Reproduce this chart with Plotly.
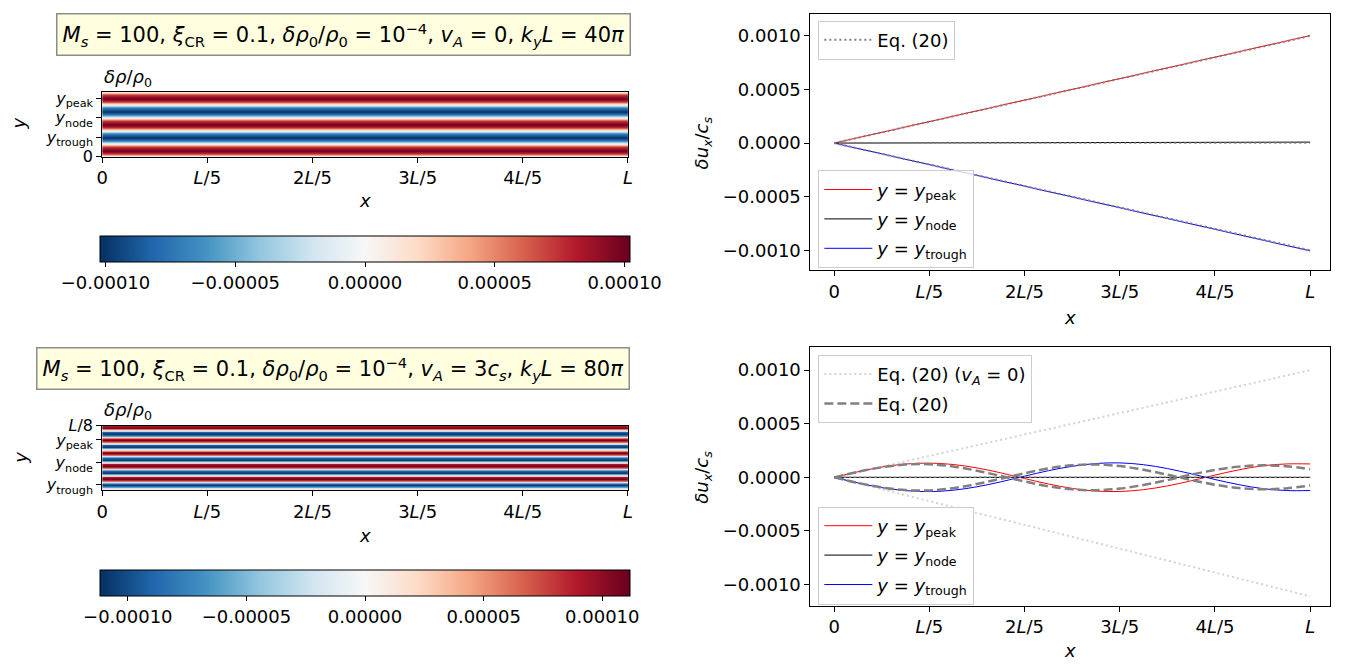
import plotly.graph_objects as go

W, H = 1354, 671
FONT = "DejaVu Sans"
FS = 18

def fx(p):
    return p / W

def fy(p):
    return 1 - p / H

# ---------------- data ----------------
# heatmap columns (x in units of L) and rows (y in units of L)
hm_x = [0.0, 1.0]
top_y = [0.0, 0.00625, 0.0125, 0.01875, 0.025, 0.03125, 0.0375, 0.04375, 0.05,
         0.05625, 0.0625, 0.06875, 0.075, 0.08125, 0.0875, 0.09375, 0.1,
         0.10625, 0.1125, 0.11875, 0.125]
top_rho = [0.0, 0.72, 1.02, 0.72, 0.0, -0.72, -1.02, -0.72, 0.0, 0.72, 1.02,
           0.72, 0.0, -0.72, -1.02, -0.72, 0.0, 0.72, 1.02, 0.72, 0.0]  # x1e-4

bot_y = [0.0, 0.003125, 0.00625, 0.009375, 0.0125, 0.015625, 0.01875, 0.021875,
         0.025, 0.028125, 0.03125, 0.034375, 0.0375, 0.040625, 0.04375, 0.046875,
         0.05, 0.053125, 0.05625, 0.059375, 0.0625, 0.065625, 0.06875, 0.071875,
         0.075, 0.078125, 0.08125, 0.084375, 0.0875, 0.090625, 0.09375, 0.096875,
         0.1, 0.103125, 0.10625, 0.109375, 0.1125, 0.115625, 0.11875, 0.121875,
         0.125]
bot_rho = [0.90, 0.17, -0.66, -1.10, -0.90, -0.17, 0.66, 1.10,
           0.90, 0.17, -0.66, -1.10, -0.90, -0.17, 0.66, 1.10,
           0.90, 0.17, -0.66, -1.10, -0.90, -0.17, 0.66, 1.10,
           0.90, 0.17, -0.66, -1.10, -0.90, -0.17, 0.66, 1.10,
           0.90, 0.17, -0.66, -1.10, -0.90, -0.17, 0.66, 1.10,
           0.90]  # x1e-4
top_cmax = 1.021e-4
bot_cmax = 1.117e-4

x_ticks = [0, 0.2, 0.4, 0.6, 0.8, 1.0]
x_ticktext = ["0", "<i>L</i>/5", "2<i>L</i>/5", "3<i>L</i>/5", "4<i>L</i>/5", "<i>L</i>"]
cb_ticks = [-1e-4, -5e-5, 0, 5e-5, 1e-4]
cb_ticktext = ["\u22120.00010", "\u22120.00005", "0.00000", "0.00005", "0.00010"]
top_hm_yticks = [0.0, 0.0375, 0.075, 0.1125]
top_hm_yticktext = ["0", "<i>y</i><sub>trough</sub>", "<i>y</i><sub>node</sub>", "<i>y</i><sub>peak</sub>"]
bot_hm_yticks = [0.01, 0.0535, 0.0975, 0.125]
bot_hm_yticktext = ["<i>y</i><sub>trough</sub>", "<i>y</i><sub>node</sub>", "<i>y</i><sub>peak</sub>", "<i>L</i>/8"]
u_ticks = [-0.001, -0.0005, 0.0, 0.0005, 0.001]
u_ticktext = ["\u22120.0010", "\u22120.0005", "0.0000", "0.0005", "0.0010"]

# top-right (v_A = 0)
tr_x = [0.0, 1.0]
tr_peak = [0.0, 0.001003]
tr_node = [0.0, 0.000009]
tr_trough = [0.0, -0.001006]
tr_eq_peak = [0.0, 0.001]
tr_eq_node = [0.0, 0.0]
tr_eq_trough = [0.0, -0.001]

# bottom-right (v_A = 3 c_s), values x1e-4
br_x = [0.0, 0.05, 0.1, 0.15, 0.2, 0.25, 0.3, 0.35, 0.4, 0.45, 0.5, 0.55, 0.6,
        0.65, 0.7, 0.75, 0.8, 0.85, 0.9, 0.95, 1.0]
br_peak = [0.0, 0.52, 0.96, 1.24, 1.33, 1.20, 0.88, 0.42, -0.11, -0.62, -1.03,
           -1.28, -1.32, -1.15, -0.80, -0.32, 0.21, 0.70, 1.08, 1.25, 1.25]
br_trough = [0.0, -0.52, -0.96, -1.24, -1.33, -1.20, -0.88, -0.42, 0.11, 0.62,
             1.03, 1.29, 1.35, 1.18, 0.82, 0.33, -0.20, -0.68, -1.05, -1.23, -1.23]
br_node_x = [0.0, 1.0]
br_node = [0.0, 0.0]
br_eq_peak = [0.0, 0.52, 0.94, 1.19, 1.22, 1.01, 0.62, 0.13, -0.38, -0.83, -1.12,
              -1.20, -1.05, -0.71, -0.25, 0.25, 0.69, 1.00, 1.12, 1.03, 0.76]
br_eq_trough = [0.0, -0.52, -0.94, -1.19, -1.22, -1.01, -0.62, -0.13, 0.38, 0.83,
                1.12, 1.20, 1.05, 0.71, 0.25, -0.25, -0.69, -1.00, -1.12, -1.03, -0.76]
br_eq0_x = [0.0, 1.0]
br_eq0_peak = [0.0, 0.001]
br_eq0_node = [0.0, 0.0]
br_eq0_trough = [0.0, -0.00111]

# ---------------- styling ----------------
rdbu_r = [[0.0, "rgb(5,48,97)"], [0.1, "rgb(33,102,172)"], [0.2, "rgb(67,147,195)"],
          [0.3, "rgb(146,197,222)"], [0.4, "rgb(209,229,240)"], [0.5, "rgb(247,247,247)"],
          [0.6, "rgb(253,219,199)"], [0.7, "rgb(244,165,130)"], [0.8, "rgb(214,96,77)"],
          [0.9, "rgb(178,24,43)"], [1.0, "rgb(103,0,31)"]]

fig = go.Figure()

def hm(yvals, vals, cmax, xa, ya, cb_top):
    z = [[v * 1e-4, v * 1e-4] for v in vals]
    return go.Heatmap(
        x=hm_x, y=yvals, z=z, xaxis=xa, yaxis=ya, zsmooth="best",
        colorscale=rdbu_r, zmin=-cmax, zmax=cmax, showscale=True,
        colorbar=dict(orientation="h", x=fx(362), xanchor="center",
                      y=fy(cb_top), yanchor="top", yref="paper",
                      len=530, lenmode="pixels", thickness=26, thicknessmode="pixels",
                      xpad=0, ypad=0, outlinewidth=1, outlinecolor="black",
                      ticks="outside", ticklen=5, tickwidth=1, tickcolor="black",
                      tickvals=cb_ticks, ticktext=cb_ticktext,
                      tickfont=dict(size=FS, family=FONT, color="black")),
        hoverinfo="skip")

fig.add_trace(hm(top_y, top_rho, top_cmax, "x", "y", 234))
fig.add_trace(hm(bot_y, bot_rho, bot_cmax, "x2", "y2", 577.5))

def line(x, y, color, width, xa, ya, name=None, legend=None, dash="solid",
         showlegend=False, shape="linear", scale=1.0, group=None):
    return go.Scatter(x=x, y=[v * scale for v in y], mode="lines",
                      line=dict(color=color, width=width, dash=dash, shape=shape),
                      xaxis=xa, yaxis=ya, name=name, legend=legend,
                      showlegend=showlegend, legendgroup=group, hoverinfo="skip")

DOT = "2px,3px"
DASH = "9px,4px"

# top-right
fig.add_trace(line(tr_x, tr_peak, "red", 1, "x3", "y3", "<i>y</i> = <i>y</i><sub>peak</sub>", "legend2", showlegend=True, group="a"))
fig.add_trace(line(tr_x, tr_node, "black", 1, "x3", "y3", "<i>y</i> = <i>y</i><sub>node</sub>", "legend2", showlegend=True, group="b"))
fig.add_trace(line(tr_x, tr_trough, "blue", 1, "x3", "y3", "<i>y</i> = <i>y</i><sub>trough</sub>", "legend2", showlegend=True, group="c"))
fig.add_trace(line(tr_x, tr_eq_peak, "gray", 2, "x3", "y3", "Eq. (20)", "legend", dash=DOT, showlegend=True))
fig.add_trace(line(tr_x, tr_eq_node, "gray", 1.5, "x3", "y3", dash=DOT))
fig.add_trace(line(tr_x, tr_eq_trough, "gray", 2, "x3", "y3", dash=DOT))

# bottom-right
fig.add_trace(line(br_eq0_x, br_eq0_peak, "lightgray", 2, "x4", "y4", "Eq. (20) (<i>v<sub>A</sub></i> = 0)", "legend3", dash=DOT, showlegend=True, group="d"))
fig.add_trace(line(br_eq0_x, br_eq0_trough, "lightgray", 2, "x4", "y4", dash=DOT))
fig.add_trace(line(br_x, br_peak, "red", 1, "x4", "y4", "<i>y</i> = <i>y</i><sub>peak</sub>", "legend4", showlegend=True, shape="spline", scale=1e-4, group="f"))
fig.add_trace(line(br_node_x, br_node, "black", 1, "x4", "y4", "<i>y</i> = <i>y</i><sub>node</sub>", "legend4", showlegend=True, group="g"))
fig.add_trace(line(br_x, br_trough, "blue", 1, "x4", "y4", "<i>y</i> = <i>y</i><sub>trough</sub>", "legend4", showlegend=True, shape="spline", scale=1e-4, group="h"))
fig.add_trace(line(br_x, br_eq_peak, "gray", 2.5, "x4", "y4", "Eq. (20)", "legend3", dash=DASH, showlegend=True, shape="spline", scale=1e-4, group="e"))
fig.add_trace(line(br_x, br_eq_trough, "gray", 2.5, "x4", "y4", dash=DASH, shape="spline", scale=1e-4))
fig.add_trace(line(br_eq0_x, br_eq0_node, "gray", 1.5, "x4", "y4", dash=DOT))

axis_common = dict(showline=True, mirror=True, linecolor="black", linewidth=1,
                   ticks="outside", ticklen=5, tickwidth=1, tickcolor="black",
                   showgrid=False, zeroline=False,
                   tickfont=dict(size=FS, family=FONT, color="black"))
hm_yaxis_common = dict(axis_common, tickfont=dict(size=16, family=FONT, color="black"))

layout = dict(
    width=W, height=H, margin=dict(l=0, r=0, t=0, b=0),
    paper_bgcolor="white", plot_bgcolor="white",
    font=dict(family=FONT, size=FS, color="black"),
    xaxis=dict(domain=[fx(97), fx(627)], anchor="y", range=[0, 1],
               tickvals=x_ticks, ticktext=x_ticktext, **axis_common),
    yaxis=dict(domain=[fy(152), fy(85)], anchor="x", range=[0, 0.125],
               tickvals=top_hm_yticks, ticktext=top_hm_yticktext, **hm_yaxis_common),
    xaxis2=dict(domain=[fx(97), fx(627)], anchor="y2", range=[0, 1],
                tickvals=x_ticks, ticktext=x_ticktext, **axis_common),
    yaxis2=dict(domain=[fy(495), fy(429)], anchor="x2", range=[0, 0.125],
                tickvals=bot_hm_yticks, ticktext=bot_hm_yticktext, **hm_yaxis_common),
    xaxis3=dict(domain=[fx(811), fx(1335)], anchor="y3", range=[-0.05, 1.042],
                tickvals=x_ticks, ticktext=x_ticktext, **axis_common),
    yaxis3=dict(domain=[fy(269), fy(5)], anchor="x3", range=[-0.001188, 0.001206],
                tickvals=u_ticks, ticktext=u_ticktext, **axis_common),
    xaxis4=dict(domain=[fx(811), fx(1335)], anchor="y4", range=[-0.05, 1.042],
                tickvals=x_ticks, ticktext=x_ticktext, **axis_common),
    yaxis4=dict(domain=[fy(614), fy(348)], anchor="x4", range=[-0.001197, 0.001215],
                tickvals=u_ticks, ticktext=u_ticktext, **axis_common),
)

leg_common = dict(bgcolor="rgba(255,255,255,0.8)", bordercolor="#cccccc", borderwidth=1,
                  font=dict(size=FS, family=FONT, color="black"),
                  xanchor="left", yanchor="top", itemwidth=48,
                  traceorder="grouped", tracegroupgap=3)
layout["legend"] = dict(x=fx(819), y=fy(12), **leg_common)
layout["legend2"] = dict(x=fx(819), y=fy(166), **leg_common)
layout["legend3"] = dict(x=fx(819), y=fy(356), **leg_common)
layout["legend4"] = dict(x=fx(819), y=fy(512), **leg_common)

fig.update_layout(**layout)

ann = []
box_style = dict(bgcolor="#ffffe0", bordercolor="#8c8c8c", borderwidth=1.5, borderpad=5,
                 font=dict(size=21, family=FONT, color="black"), showarrow=False,
                 xref="paper", yref="paper", xanchor="center", yanchor="middle")
ann.append(dict(x=fx(340), y=fy(26.5),
                text="<i>M<sub>s</sub></i> = 100, <i>\u03be</i><sub>CR</sub> = 0.1, "
                     "<i>\u03b4\u03c1</i><sub>0</sub>/<i>\u03c1</i><sub>0</sub> = 10<sup>\u22124</sup>, "
                     "<i>v<sub>A</sub></i> = 0, <i>k<sub>y</sub>L</i> = 40<i>\u03c0</i>",
                **box_style))
ann.append(dict(x=fx(330), y=fy(370),
                text="<i>M<sub>s</sub></i> = 100, <i>\u03be</i><sub>CR</sub> = 0.1, "
                     "<i>\u03b4\u03c1</i><sub>0</sub>/<i>\u03c1</i><sub>0</sub> = 10<sup>\u22124</sup>, "
                     "<i>v<sub>A</sub></i> = 3<i>c<sub>s</sub></i>, <i>k<sub>y</sub>L</i> = 80<i>\u03c0</i>",
                **box_style))

lab = dict(showarrow=False, xref="paper", yref="paper",
           font=dict(size=FS, family=FONT, color="black"))
# heatmap titles
ann.append(dict(x=fx(97), y=fy(71), xanchor="left", yanchor="middle",
                text="<i>\u03b4\u03c1</i>/<i>\u03c1</i><sub>0</sub>", **lab))
ann.append(dict(x=fx(97), y=fy(414), xanchor="left", yanchor="middle",
                text="<i>\u03b4\u03c1</i>/<i>\u03c1</i><sub>0</sub>", **lab))
# heatmap axis labels
ann.append(dict(x=fx(362), y=fy(197), xanchor="center", yanchor="middle", text="<i>x</i>", **lab))
ann.append(dict(x=fx(362), y=fy(542), xanchor="center", yanchor="middle", text="<i>x</i>", **lab))
ann.append(dict(x=fx(13), y=fy(118), xanchor="center", yanchor="middle", text="<i>y</i>", textangle=-90, **lab))
ann.append(dict(x=fx(15), y=fy(462), xanchor="center", yanchor="middle", text="<i>y</i>", textangle=-90, **lab))
# right axis labels
ann.append(dict(x=fx(1073), y=fy(318), xanchor="center", yanchor="middle", text="<i>x</i>", **lab))
ann.append(dict(x=fx(1073), y=fy(660), xanchor="center", yanchor="middle", text="<i>x</i>", **lab))
ann.append(dict(x=fx(703), y=fy(138), xanchor="center", yanchor="middle",
                text="<i>\u03b4u<sub>x</sub></i>/<i>c<sub>s</sub></i>", textangle=-90, **lab))
ann.append(dict(x=fx(703), y=fy(482), xanchor="center", yanchor="middle",
                text="<i>\u03b4u<sub>x</sub></i>/<i>c<sub>s</sub></i>", textangle=-90, **lab))

fig.update_layout(annotations=ann)
fig.write_html("out.html")
